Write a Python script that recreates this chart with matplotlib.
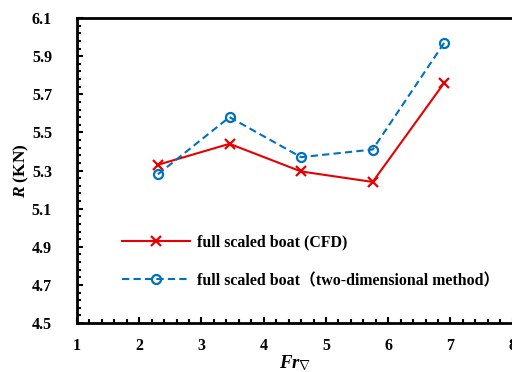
import matplotlib
matplotlib.use("Agg")
import matplotlib.pyplot as plt
import numpy as np
from matplotlib.ticker import FixedLocator, FormatStrFormatter, MultipleLocator

# Froude number (volumetric) and total resistance
fr = [2.3, 3.45, 4.6, 5.75, 6.9]
r_cfd = [5.33, 5.44, 5.295, 5.24, 5.76]
r_2d = [5.28, 5.58, 5.37, 5.41, 5.97]

label_cfd = "full scaled boat (CFD)"
label_2d = "full scaled boat\uff08two-dimensional method\uff09"

plt.rcParams["font.family"] = ["Liberation Serif", "Noto Sans CJK SC"]
plt.rcParams["font.weight"] = "bold"
plt.rcParams["mathtext.fontset"] = "custom"
plt.rcParams["mathtext.it"] = "Liberation Serif:italic:bold"
plt.rcParams["mathtext.rm"] = "Liberation Serif:bold"
plt.rcParams["mathtext.bf"] = "Liberation Serif:bold"

fig = plt.figure(figsize=(5.12, 3.72), dpi=100)
ax = fig.add_axes([0.1504, 0.1317, 0.8510, 0.8199])

ax.plot(fr, r_cfd, color="#E60000", lw=1.5, marker="x", ms=7, mew=1.6,
        label=label_cfd)
ax.plot(fr, r_2d, color="#0070C0", lw=1.5, ls=(0, (3.5, 2)), marker="o",
        ms=6.5, mfc="none", mew=1.6, label=label_2d)

ax.set_xlim(1, 8)
ax.set_ylim(4.5, 6.1)
ax.xaxis.set_major_locator(MultipleLocator(1))
ax.xaxis.set_minor_locator(MultipleLocator(0.2))
ax.yaxis.set_major_locator(FixedLocator(np.round(np.arange(4.5, 6.11, 0.2), 2)))
ax.yaxis.set_minor_locator(FixedLocator(np.round(np.arange(4.5, 6.11, 0.04), 2)))
ax.yaxis.set_major_formatter(FormatStrFormatter("%.1f"))

for side in ["left", "bottom", "top"]:
    ax.spines[side].set_linewidth(2)
    ax.spines[side].set_color("black")
ax.spines["right"].set_visible(False)

ax.tick_params(axis="both", which="both", direction="in", width=1.5,
               labelsize=11.5)
ax.tick_params(axis="both", which="major", length=4)
ax.tick_params(axis="both", which="minor", length=3)
ax.tick_params(axis="y", which="both", right=False)
ax.tick_params(axis="y", which="major", pad=18)
ax.tick_params(axis="x", which="major", pad=11)

ax.set_ylabel(r"$R$ (KN)", fontsize=12.5, fontweight="bold")
ax.yaxis.set_label_coords(-0.106, 0.5)
ax.set_xlabel(r"$Fr_{\nabla}$", fontsize=13.5)
ax.xaxis.set_label_coords(0.5, -0.098)

ax.legend(loc="lower left", bbox_to_anchor=(0.071, 0.065), frameon=False,
          handlelength=4.3, handletextpad=0.45, labelspacing=1.44,
          fontsize=11.4)

fig.savefig("out.png", dpi=100)
